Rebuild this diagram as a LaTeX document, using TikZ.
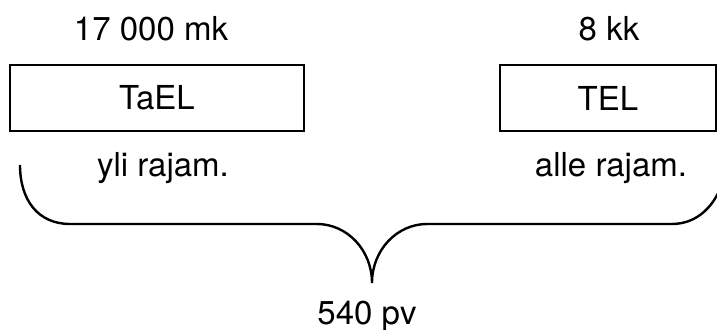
\documentclass[tikz,border=0pt]{standalone}
\usepackage{fontspec}
\setmainfont{TeX Gyre Heros}
\usetikzlibrary{positioning}

\tikzset{
    lbl/.style={font=\fontsize{16.5}{19}\selectfont, inner sep=0pt},
    elbox/.style={draw, line width=1pt, font=\fontsize{16.5}{19}\selectfont,
        minimum height=33pt, inner sep=0pt}
}

\begin{document}
\begin{tikzpicture}[x=0.5pt,y=-0.5pt]% pixel grid of the page
    \useasboundingbox (0,0) rectangle (717,330);

    % left side
    \node[lbl] (sumL) at (151,29) {17 000 mk};
    \node[elbox, minimum width=147pt] (tael) at (157,98) {TaEL};
    \node[lbl] (rajL) at (163,168) {yli rajam.};

    % right side
    \node[lbl] (sumR) at (609,29) {8 kk};
    \node[elbox, minimum width=108pt] (tel) at (608,98) {TEL};
    \node[lbl] (rajR) at (611,168) {alle rajam.};

    % brace
    \node[lbl] (total) at (367,316) {540 pv};
    \coordinate (braceL) at (20,165);
    \coordinate (braceR) at (724,178);
    \coordinate (tip) at (372,283);
    \draw[line width=1.2pt]
        (braceL) .. controls (20,200) and (38,224) .. (70,224)
        -- (317,224) .. controls (347,224) and (372,250) .. (tip)
        .. controls (372,250) and (397,224) .. (427,224)
        -- (672,224) .. controls (697,224) and (716,206) .. (braceR);
    % \node at (367,300) {};
\end{tikzpicture}
\end{document}
